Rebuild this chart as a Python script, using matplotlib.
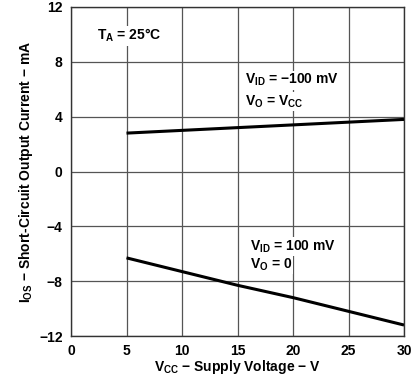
import matplotlib
matplotlib.use("Agg")
import matplotlib.pyplot as plt

# supply voltage (V) and short-circuit output current (mA)
vcc = [5, 10, 15, 20, 25, 30]
ios_source = [2.8, 3.0, 3.2, 3.4, 3.6, 3.8]       # V_ID = -100 mV, V_O = V_CC
ios_sink = [-6.3, -7.3, -8.3, -9.2, -10.2, -11.2]  # V_ID = 100 mV, V_O = 0

x_ticks = [0, 5, 10, 15, 20, 25, 30]
y_ticks = [-12, -8, -4, 0, 4, 8, 12]

plt.rcParams['font.family'] = ['Liberation Sans', 'DejaVu Sans']
plt.rcParams['font.weight'] = 'bold'

fs = 10
fig = plt.figure(figsize=(4.12, 3.77), dpi=100)
ax = fig.add_axes([71 / 412, 41 / 377, 333 / 412, 329 / 377])

ax.plot(vcc, ios_source, color='black', lw=2.2, solid_capstyle='butt', zorder=3)
ax.plot(vcc, ios_sink, color='black', lw=2.2, solid_capstyle='butt', zorder=3)

ax.set_xlim(0, 30)
ax.set_ylim(-12, 12)
ax.set_xticks(x_ticks)
ax.set_yticks(y_ticks)
ax.set_xticklabels([str(v) for v in x_ticks])
ax.set_yticklabels([str(v).replace('-', '\u2212') for v in y_ticks])
ax.tick_params(length=0, labelsize=fs, pad=6)
ax.grid(True, color='#555555', lw=0.9)
ax.set_axisbelow(True)
for s in ax.spines.values():
    s.set_color('#333333')
    s.set_linewidth(1.0)

ax.set_xlabel('V$_{\\mathregular{CC}}$ \u2212 Supply Voltage \u2212 V', fontsize=fs, fontweight='bold', labelpad=0)
ax.set_ylabel('I$_{\\mathregular{OS}}$ \u2212 Short-Circuit Output Current \u2212 mA', fontsize=fs, fontweight='bold', labelpad=3)

box = dict(facecolor='white', edgecolor='none', pad=1)
ax.text(2.3, 9.9, 'T$_{\\mathregular{A}}$ = 25\u00b0C', fontsize=fs, fontweight='bold', va='center', bbox=box, zorder=2)
ax.text(15.7, 6.66, 'V$_{\\mathregular{ID}}$ = \u2212100 mV', fontsize=fs, fontweight='bold', va='center', bbox=box, zorder=2)
ax.text(15.7, 5.1, 'V$_{\\mathregular{O}}$ = V$_{\\mathregular{CC}}$', fontsize=fs, fontweight='bold', va='center', bbox=box, zorder=2)
ax.text(16.1, -5.5, 'V$_{\\mathregular{ID}}$ = 100 mV', fontsize=fs, fontweight='bold', va='center', bbox=box, zorder=2)
ax.text(16.1, -6.8, 'V$_{\\mathregular{O}}$ = 0', fontsize=fs, fontweight='bold', va='center', bbox=box, zorder=2)

fig.savefig('out.png', dpi=100)
